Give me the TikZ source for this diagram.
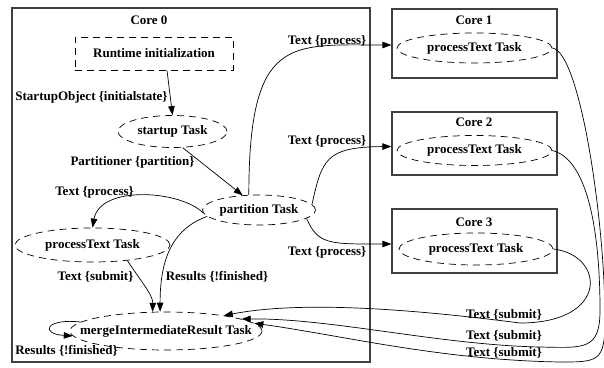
\documentclass[tikz,border=0pt]{standalone}
\usepackage{fontspec}
\setmainfont{Liberation Serif}
\usetikzlibrary{shapes.geometric,arrows.meta,positioning}

\begin{document}
\begin{tikzpicture}[x=1pt,y=-1pt,
  font=\fontsize{13}{15}\selectfont\bfseries,
  corebox/.style={draw=black!75, line width=1.2pt, inner sep=0pt},
  task/.style={ellipse, draw, dash pattern=on 7pt off 5pt, line width=0.7pt, inner sep=0pt},
  flow/.style={-{Triangle[length=9pt,width=6.5pt]}, line width=0.7pt},
  lbl/.style={inner sep=0pt}]

\useasboundingbox (0,0) rectangle (604,367);

% cores
\node[corebox, minimum width=358pt, minimum height=354pt] (core0) at (191,185) {};
\node[corebox, minimum width=165pt, minimum height=69pt] (core1) at (474.5,43.5) {};
\node[corebox, minimum width=165pt, minimum height=63pt] (core2) at (474.5,143.5) {};
\node[corebox, minimum width=165pt, minimum height=64pt] (core3) at (474.5,241) {};
\node[lbl] (c0title) at (149,20) {Core 0};
\node[lbl] (c1title) at (474,20) {Core 1};
\node[lbl] (c2title) at (474,122) {Core 2};
\node[lbl] (c3title) at (474,222) {Core 3};

% tasks (zero-width text box so the ellipse keeps its size)
\node[draw, dash pattern=on 7pt off 5pt, line width=0.7pt, minimum width=158pt, minimum height=33pt] (init) at (154,53.5) {Runtime initialization};
\node[task, minimum width=109pt, minimum height=32pt] (startup) at (172.5,131.5) {\makebox[0pt]{startup Task}};
\node[task, minimum width=113pt, minimum height=30pt] (partition) at (259,210) {\makebox[0pt]{partition Task}};
\node[task, minimum width=155pt, minimum height=34pt] (proc0) at (92.5,245) {\makebox[0pt]{processText Task}};
\node[task, minimum width=192pt, minimum height=38pt] (merge) at (166,331) {\makebox[0pt]{mergeIntermediateResult Task}};
\node[task, minimum width=155pt, minimum height=30pt] (proc1) at (474.5,48) {\makebox[0pt]{processText Task}};
\node[task, minimum width=155pt, minimum height=30pt] (proc2) at (474.5,150.5) {\makebox[0pt]{processText Task}};
\node[task, minimum width=154pt, minimum height=32pt] (proc3) at (476,249) {\makebox[0pt]{processText Task}};

% edges inside core 0
\draw[flow] ([xshift=13pt]init.south) -- (startup.north);
\draw[flow] (startup.-58) -- (partition.138);
\draw[flow] (partition.183) .. controls (180,190) and (100,185) .. (proc0.north);
\draw[flow] (proc0.-24) .. controls (140,280) and (153,295) .. (merge.125);
\draw[flow] (partition.187) .. controls (175,228) and (160,255) .. (merge.107);
\draw[flow] (merge.174) .. controls (45,318) and (40,334) .. (merge.183);

% edges to the other cores
\draw[flow] (partition.124) .. controls (249,35) and (290,45) .. ([yshift=-1.5pt]core1.west);
\draw[flow] (partition.6) .. controls (322,160) and (325,147) .. ([yshift=-3pt]core2.west);
\draw[flow] (partition.-10) .. controls (318,245) and (330,244) .. ([yshift=-3pt]core3.west);

% results back to core 0
\draw[flow] (proc3.east) .. controls (605,255) and (610,323) .. (520,323)
  .. controls (380,305) and (290,303) .. (merge.15);
\draw[flow] (proc2.east) .. controls (590,160) and (600,240) .. (600,310)
  .. controls (600,350) and (585,348) .. (540,347)
  .. controls (440,345) and (330,318) .. (merge.9);
\draw[flow] (proc1.east) .. controls (580,52) and (605,220) .. (605,320)
  .. controls (605,362) and (598,362) .. (560,362)
  .. controls (440,360) and (340,335) .. (merge.5);

% labels
\node[lbl] (l_init) at (91.5,97) {StartupObject \{initialstate\}};
\node[lbl] (l_part) at (132.5,162) {Partitioner \{partition\}};
\node[lbl] (l_proc0) at (94.5,192) {Text \{process\}};
\node[lbl] (l_sub0) at (95.5,277) {Text \{submit\}};
\node[lbl] (l_fin) at (217,277) {Results \{!finished\}};
\node[lbl] (l_loop) at (66.5,351) {Results \{!finished\}};
\node[lbl] (l_proc1) at (327,41) {Text \{process\}};
\node[lbl] (l_proc2) at (327,141) {Text \{process\}};
\node[lbl] (l_proc3) at (327,252) {Text \{process\}};
\node[lbl] (l_sub3) at (504,315) {Text \{submit\}};
\node[lbl] (l_sub2) at (504,336) {Text \{submit\}};
\node[lbl] (l_sub1) at (504,353) {Text \{submit\}};
\end{tikzpicture}
\end{document}
